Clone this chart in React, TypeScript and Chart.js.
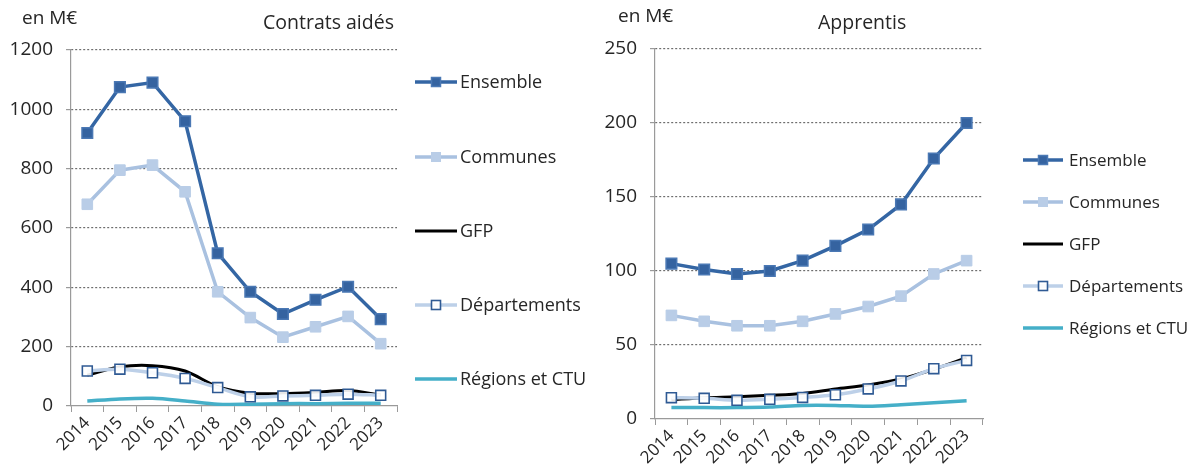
import React, { useEffect, useRef } from "react";
import { Chart, registerables } from "chart.js";

Chart.register(...registerables);

const years = ["2014", "2015", "2016", "2017", "2018", "2019", "2020", "2021", "2022", "2023"];
const seriesNames = ["Ensemble", "Communes", "GFP", "Départements", "Régions et CTU"];

// Contrats aidés (M€)
const caEnsemble = [920, 1075, 1090, 960, 515, 385, 310, 358, 402, 293];
const caCommunes = [680, 795, 812, 722, 385, 298, 232, 267, 302, 210];
const caGFP = [104, 132, 136, 118, 65, 43, 42, 46, 52, 37];
const caDepartements = [118, 124, 112, 93, 62, 31, 34, 36, 40, 36];
const caRegions = [17, 24, 26, 17, 6, 6, 8, 8, 9, 9];

// Apprentis (M€)
const apEnsemble = [105, 101, 98, 100, 107, 117, 128, 145, 176, 200];
const apCommunes = [70, 66, 63, 63, 66, 71, 76, 83, 98, 107];
const apGFP = [13, 14.4, 15, 16, 17.3, 20.3, 23, 27, 33.6, 41.4];
const apDepartements = [14.4, 14, 12.6, 13.3, 14.6, 16.4, 20.3, 25.7, 34, 39.6];
const apRegions = [7.7, 7.7, 7.7, 8.1, 9.2, 9.2, 8.6, 9.7, 11, 12.4];

const FONT = "'Open Sans', 'Noto Sans', sans-serif";
const TEXT = "#262626";

const DARK = "#3466A4";
const DARK_FILL = "#3563A0";
const LIGHT = "#A9C1E0";
const LIGHT_FILL = "#B9CDE7";
const DEP_LINE = "#BDD0E8";
const TEAL = "#45AFC8";

function makeDatasets(vals: number[][]) {
  return [
    {
      label: seriesNames[0], data: vals[0], borderColor: DARK, borderWidth: 3.5,
      pointStyle: "rect", pointRadius: 7.5, pointBackgroundColor: DARK_FILL,
      pointBorderColor: "#4A78B4", pointBorderWidth: 1.5, tension: 0, order: 1,
    },
    {
      label: seriesNames[1], data: vals[1], borderColor: LIGHT, borderWidth: 3.5,
      pointStyle: "rect", pointRadius: 7.5, pointBackgroundColor: LIGHT_FILL,
      pointBorderColor: LIGHT_FILL, pointBorderWidth: 1, tension: 0, order: 2,
    },
    {
      label: seriesNames[2], data: vals[2], borderColor: "#000000", borderWidth: 3,
      pointRadius: 0, tension: 0.3, order: 4,
    },
    {
      label: seriesNames[3], data: vals[3], borderColor: DEP_LINE, borderWidth: 3.5,
      pointStyle: "rect", pointRadius: 7, pointBackgroundColor: "rgba(255,255,255,0.9)",
      pointBorderColor: "#2F5A94", pointBorderWidth: 1.6, tension: 0.3, order: 3,
    },
    {
      label: seriesNames[4], data: vals[4], borderColor: TEAL, borderWidth: 3.5,
      pointRadius: 0, tension: 0.3, order: 5,
    },
  ];
}

const sideLegend = {
  id: "sideLegend",
  afterDraw(chart: any, _args: any, opts: any) {
    const ctx = chart.ctx as CanvasRenderingContext2D;
    const ds = chart.data.datasets;
    ctx.save();
    ds.forEach((d: any, i: number) => {
      const y = opts.ys[i];
      const x = opts.x;
      ctx.setLineDash([]);
      ctx.strokeStyle = d.borderColor;
      ctx.lineWidth = d.borderWidth;
      ctx.beginPath();
      ctx.moveTo(x, y);
      ctx.lineTo(x + opts.lineLen, y);
      ctx.stroke();
      if (d.pointRadius > 0) {
        const s = 9;
        const cx = x + opts.lineLen / 2;
        ctx.fillStyle = d.pointBackgroundColor;
        ctx.fillRect(cx - s / 2, y - s / 2, s, s);
        ctx.strokeStyle = d.pointBorderColor;
        ctx.lineWidth = d.pointBorderWidth;
        ctx.strokeRect(cx - s / 2, y - s / 2, s, s);
      }
      ctx.fillStyle = TEXT;
      ctx.font = `${opts.fontSize}px ${FONT}`;
      ctx.textBaseline = "middle";
      ctx.textAlign = "left";
      ctx.fillText(d.label, x + opts.lineLen + opts.gap, y + 1);
    });
    // titles
    ctx.font = `19px ${FONT}`;
    ctx.fillStyle = TEXT;
    ctx.textBaseline = "alphabetic";
    ctx.textAlign = "left";
    ctx.fillText("en M€", opts.unitX, opts.unitY);
    ctx.font = `${opts.titleSize}px ${FONT}`;
    ctx.fillText(opts.title, opts.titleX, opts.titleY);
    ctx.restore();
  },
};

type PanelProps = {
  left: number;
  width: number;
  vals: number[][];
  yMax: number;
  yStep: number;
  yWidth: number;
  xHeight: number;
  padTop: number;
  padRight: number;
  legend: any;
};

function Panel(p: PanelProps) {
  const ref = useRef<HTMLCanvasElement>(null);
  useEffect(() => {
    if (!ref.current) return;
    const chart = new Chart(ref.current, {
      type: "line",
      data: { labels: years, datasets: makeDatasets(p.vals) as any },
      plugins: [sideLegend],
      options: {
        responsive: false,
        animation: false,
        devicePixelRatio: 1,
        layout: { padding: { top: p.padTop, right: p.padRight, left: 0, bottom: 0 } },
        plugins: {
          legend: { display: false },
          tooltip: { enabled: false },
          sideLegend: p.legend,
        } as any,
        scales: {
          x: {
            offset: true,
            grid: {
              offset: true, drawOnChartArea: false, drawTicks: true, tickLength: 6,
              color: "#9a9a9a", tickColor: "#9a9a9a",
            },
            border: { color: "#9a9a9a", width: 1.2 },
            ticks: {
              autoSkip: false,
              maxRotation: 45, minRotation: 45, padding: 1,
              color: TEXT, font: { family: FONT, size: 17 },
            },
            afterFit: (s: any) => { s.height = p.xHeight; },
          },
          y: {
            min: 0, max: p.yMax,
            grid: {
              color: (c: any) => (c.tick && c.tick.value === 0 ? "rgba(0,0,0,0)" : "#6e6e6e"),
              lineWidth: 1.2, drawTicks: true, tickLength: 5, tickColor: "#9a9a9a",
              tickBorderDash: [],
            },
            border: { color: "#9a9a9a", width: 1.2, dash: [2, 2] },
            ticks: {
              stepSize: p.yStep, padding: 13, color: TEXT,
              font: { family: FONT, size: 19 },
              callback: (v: any) => String(v),
            },
            afterFit: (s: any) => { s.width = p.yWidth; },
          },
        },
      } as any,
    });
    return () => chart.destroy();
  }, []);
  return (
    <canvas
      ref={ref}
      width={p.width}
      height={472}
      style={{ position: "absolute", left: p.left, top: 0, width: p.width, height: 472 }}
    />
  );
}

export default function App() {
  return (
    <div style={{ position: "fixed", left: 0, top: 0, width: 1197, height: 472, background: "#fff", overflow: "hidden" }}>
      <Panel
        left={0}
        width={600}
        vals={[caEnsemble, caCommunes, caGFP, caDepartements, caRegions]}
        yMax={1200}
        yStep={200}
        yWidth={71}
        xHeight={66}
        padTop={50}
        padRight={203}
        legend={{
          x: 415, ys: [82, 157, 231, 305, 379], lineLen: 42, gap: 3, fontSize: 18,
          unitX: 22, unitY: 24, title: "Contrats aidés", titleX: 263, titleY: 29, titleSize: 19.5,
        }}
      />
      <Panel
        left={600}
        width={597}
        vals={[apEnsemble, apCommunes, apGFP, apDepartements, apRegions]}
        yMax={250}
        yStep={50}
        yWidth={55}
        xHeight={53}
        padTop={49}
        padRight={214}
        legend={{
          x: 423, ys: [160, 202, 244, 286, 328], lineLen: 40, gap: 6, fontSize: 17,
          unitX: 18, unitY: 22, title: "Apprentis", titleX: 218, titleY: 29, titleSize: 19.5,
        }}
      />
    </div>
  );
}
